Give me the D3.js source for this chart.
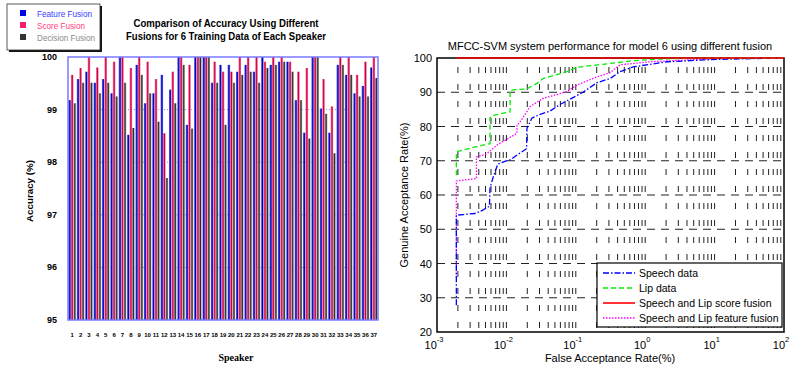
<!DOCTYPE html>
<html>
<head>
<meta charset="utf-8">
<script src="https://cdn.jsdelivr.net/npm/d3@7"></script>
<style>
  body { margin: 0; background: #fff; }
  svg { display: block; }
</style>
</head>
<body>
<svg id="chart" width="793" height="368"></svg>
<script>
// ---- left chart data: accuracy (%) per speaker
var speakers = ['1','2','3','4','5','6','7','8','9','10','11','12','13','14','15','16','17','18','19',
                '20','21','22','23','24','25','26','27','28','29','30','31','32','33','34','35','36','37']
var featureFusion = [99.18, 99.58, 99.72, 99.51, 99.58, 99.31, 100, 98.52, 99.85, 99.12, 99.31, 99.66, 99.38,
                     100, 98.71, 100, 100, 99.51, 99.85, 99.85, 99.72, 99.85, 99.72, 100, 99.85, 99.91, 99.91,
                     99.18, 98.56, 100, 99.02, 98.56, 99.85, 99.66, 99.31, 99.45, 99.8]
var scoreFusion = [99.66, 99.79, 100, 99.8, 100, 99.91, 100, 99.79, 100, 99.91, 99.58, 98.55, 99.72,
                   100, 99.85, 100, 100, 99.91, 99.72, 99.72, 100, 100, 100, 99.91, 100, 100, 99.91,
                   99.72, 99.79, 100, 99.58, 99.06, 100, 100, 99.66, 99.91, 100]
var decisionFusion = [99.12, 99.51, 99.51, 99.31, 99.51, 99.25, 99.51, 98.65, 99.66, 99.31, 98.77, 97.7, 99.12,
                      99.85, 98.64, 100, 100, 99.51, 98.71, 99.51, 99.66, 99.72, 99.51, 99.79, 99.85, 99.91, 99.72,
                      99.18, 98.45, 100, 98.92, 98.17, 99.85, 99.66, 99.25, 99.25, 99.6]
var accTicks = [95, 96, 97, 98, 99, 100]

// ---- right chart data: [FAR %, GAR %]
var speechData = [[0.0019, 27.8], [0.0019, 54.1], [0.0024, 54.3], [0.0035, 54.6], [0.0045, 55.5], [0.0057, 56.7],
                  [0.0058, 62], [0.0064, 65], [0.0075, 69], [0.0095, 69.8], [0.0115, 70.3], [0.015, 72],
                  [0.0195, 73.5], [0.0198, 79.5], [0.0234, 82.5], [0.03, 83.5], [0.0425, 84.5], [0.06, 86.5],
                  [0.0746, 87.5], [0.127, 90], [0.202, 92.8], [0.311, 94], [0.434, 96], [0.667, 97.4],
                  [2.06, 98.9], [10.8, 99.6], [100, 100]]
var lipData = [[0.0019, 65.8], [0.0019, 72.6], [0.0037, 74.1], [0.0058, 75.0], [0.0058, 82.6], [0.0064, 83.2],
               [0.0113, 84.3], [0.0113, 90.6], [0.0198, 91], [0.0276, 92.6], [0.0337, 94], [0.0746, 96],
               [0.104, 97.3], [0.311, 98.4], [0.667, 99.2], [1.29, 99.6], [5, 100], [100, 100]]
var scoreData = [[0.0019, 100], [100, 100]]
var featureData = [[0.0019, 36], [0.0019, 64.1], [0.0037, 64.8], [0.0037, 71.1], [0.0052, 72], [0.0073, 74.6],
                   [0.0142, 78], [0.0142, 80.4], [0.0157, 81.3], [0.0219, 85.8], [0.0337, 88.2], [0.0746, 90.2],
                   [0.104, 92.1], [0.202, 94.5], [0.311, 95.7], [0.434, 98], [1.17, 98.9], [6.2, 99.6],
                   [20, 100], [100, 100]]
var garTicks = [20, 30, 40, 50, 60, 70, 80, 90, 100]
var farDecades = [-3, -2, -1, 0, 1, 2]

var svg = d3.select('#chart')
var defs = svg.append('defs')

// ================= left: grouped bars =================
var bx = d3.scaleBand().domain(speakers).range([68, 378]).paddingInner(0.1).paddingOuter(0.05)
var sub = d3.scaleBand().domain(['f', 's', 'd']).range([0, bx.bandwidth()])
var by = d3.scaleLinear().domain([95, 100]).range([320, 57])

var barSeries = [
  {key: 'f', name: 'Feature Fusion', values: featureFusion, edge: '#6f6fff', mid: '#0000a8', text: '#3b3bff', swatch: '#0000ee', tlen: 55},
  {key: 's', name: 'Score Fusion', values: scoreFusion, edge: '#ff7aa6', mid: '#c40040', text: '#ff3c7c', swatch: '#ff1f66', tlen: 48},
  {key: 'd', name: 'Decision Fusion', values: decisionFusion, edge: '#a8a8a8', mid: '#2a2a2a', text: '#8a8a8a', swatch: '#333333', tlen: 58}
]

barSeries.forEach(function(s) {
  var g = defs.append('linearGradient').attr('id', 'grad-' + s.key)
    .attr('x1', '0%').attr('x2', '100%').attr('y1', '0%').attr('y2', '0%')
  g.append('stop').attr('offset', '0%').attr('stop-color', s.edge)
  g.append('stop').attr('offset', '55%').attr('stop-color', s.mid)
  g.append('stop').attr('offset', '100%').attr('stop-color', s.edge)
})

var left = svg.append('g').attr('class', 'left-chart')

// light dotted grid
left.selectAll('.hgrid')
  .data(accTicks.slice(1, -1))
  .enter().append('line')
    .attr('x1', 68).attr('x2', 378)
    .attr('y1', function(d){ return by(d) }).attr('y2', function(d){ return by(d) })
    .style('stroke', '#8c8cff')
    .style('stroke-width', 1)
    .style('stroke-dasharray', '1,2')

barSeries.forEach(function(s) {
  left.append('g')
    .selectAll('rect')
    .data(s.values)
    .enter().append('rect')
      .attr('x', function(d, i){ return bx(speakers[i]) + sub(s.key) })
      .attr('width', sub.bandwidth())
      .attr('y', function(d){ return by(d) })
      .attr('height', function(d){ return by(95) - by(d) })
      .style('fill', 'url(#grad-' + s.key + ')')
})

left.append('rect')
  .attr('x', 68).attr('y', 57).attr('width', 310).attr('height', 263)
  .style('fill', 'none')
  .style('stroke', '#7a7aff')
  .style('stroke-width', 1.5)

left.selectAll('.ytick')
  .data(accTicks)
  .enter().append('text')
    .attr('x', 57)
    .attr('y', function(d){ return by(d) + 3 })
    .attr('text-anchor', 'end')
    .text(function(d){ return d })
    .style('font-family', '"Liberation Sans Narrow", "Liberation Sans", Arial, sans-serif')
    .style('font-weight', 'bold')
    .style('font-size', '9px')

left.selectAll('.xtick')
  .data(speakers)
  .enter().append('text')
    .attr('x', function(d){ return bx(d) + bx.bandwidth() / 2 })
    .attr('y', 337)
    .attr('text-anchor', 'middle')
    .text(function(d){ return d })
    .style('font-family', '"Liberation Sans Narrow", "Liberation Sans", Arial, sans-serif')
    .style('font-weight', 'bold')
    .style('font-size', '6px')

left.append('text')
  .attr('transform', 'translate(33,191) rotate(-90)')
  .attr('text-anchor', 'middle')
  .attr('textLength', 62)
  .attr('lengthAdjust', 'spacingAndGlyphs')
  .text('Accuracy (%)')
  .style('font-family', '"Liberation Sans", Arial, sans-serif')
  .style('font-weight', 'bold')
  .style('font-size', '9px')

left.append('text')
  .attr('x', 236).attr('y', 361)
  .attr('text-anchor', 'middle')
  .text('Speaker')
  .style('font-family', '"Liberation Serif", "Times New Roman", serif')
  .style('font-weight', 'bold')
  .style('font-size', '10px')

var leftTitle = ['Comparison of Accuracy Using Different', 'Fusions for 6 Training Data of Each Speaker']
var titleLen = [185, 200]
left.selectAll('.title')
  .data(leftTitle)
  .enter().append('text')
    .attr('x', 226)
    .attr('y', function(d, i){ return 27 + i * 13 })
    .attr('text-anchor', 'middle')
    .attr('textLength', function(d, i){ return titleLen[i] })
    .attr('lengthAdjust', 'spacingAndGlyphs')
    .text(function(d){ return d })
    .style('font-family', '"Liberation Sans", Arial, sans-serif')
    .style('font-weight', 'bold')
    .style('font-size', '11px')

// legend with shadow
var lleg = left.append('g')
lleg.append('rect').attr('x', 9).attr('y', 6).attr('width', 93).attr('height', 46).style('fill', '#111')
lleg.append('rect').attr('x', 7).attr('y', 4).attr('width', 93).attr('height', 46)
  .style('fill', '#fff').style('stroke', '#333').style('stroke-width', 0.8)
barSeries.forEach(function(s, i) {
  lleg.append('rect')
    .attr('x', 20).attr('y', 10 + i * 12).attr('width', 6).attr('height', 6)
    .style('fill', s.swatch)
  lleg.append('text')
    .attr('x', 37).attr('y', 17 + i * 12)
    .attr('textLength', s.tlen)
    .attr('lengthAdjust', 'spacingAndGlyphs')
    .text(s.name)
    .style('fill', s.text)
    .style('font-family', '"Liberation Sans", Arial, sans-serif')
    .style('font-size', '9.5px')
})

// ================= right: ROC curves =================
var rx = d3.scaleLog().domain([1e-3, 1e2]).range([437, 784])
var ry = d3.scaleLinear().domain([20, 100]).range([332, 58])

var right = svg.append('g').attr('class', 'right-chart')

var minorVals = []
for (var k = -3; k < 2; k++) {
  for (var m = 1; m < 10; m++) {
    if (m === 1 && k === -3) continue
    minorVals.push(m * Math.pow(10, k))
  }
}

right.selectAll('.vgrid')
  .data(minorVals)
  .enter().append('line')
    .attr('x1', function(d){ return rx(d) }).attr('x2', function(d){ return rx(d) })
    .attr('y1', 332).attr('y2', 58)
    .style('stroke', '#222')
    .style('stroke-width', 1)
    .style('stroke-dasharray', '6,11')
    .style('stroke-dashoffset', -4)

right.selectAll('.hgrid')
  .data(garTicks.slice(1, -1))
  .enter().append('line')
    .attr('x1', 437).attr('x2', 784)
    .attr('y1', function(d){ return ry(d) }).attr('y2', function(d){ return ry(d) })
    .style('stroke', '#222')
    .style('stroke-width', 1)
    .style('stroke-dasharray', '8,6')

right.append('rect')
  .attr('x', 437).attr('y', 58).attr('width', 347).attr('height', 274)
  .style('fill', 'none')
  .style('stroke', '#000')
  .style('stroke-width', 1.5)

var line = d3.line()
  .x(function(d){ return rx(d[0]) })
  .y(function(d){ return ry(d[1]) })

var curves = [
  {name: 'Speech data', data: speechData, color: '#0000ff', dash: '6,2,1.5,2', width: 1.3},
  {name: 'Lip data', data: lipData, color: '#00ee00', dash: '5,3', width: 1.3},
  {name: 'Speech and Lip score fusion', data: scoreData, color: '#ff0000', dash: null, width: 1.6},
  {name: 'Speech and Lip feature fusion', data: featureData, color: '#ff00ff', dash: '1.5,1.5', width: 1.3}
]

var drawOrder = [3, 0, 1, 2]
drawOrder.forEach(function(i) {
  var c = curves[i]
  right.append('path')
    .attr('d', line(c.data))
    .style('fill', 'none')
    .style('stroke', c.color)
    .style('stroke-width', c.width)
    .style('stroke-dasharray', c.dash)
})

right.selectAll('.ytick')
  .data(garTicks)
  .enter().append('text')
    .attr('x', 432)
    .attr('y', function(d){ return ry(d) + 4 })
    .attr('text-anchor', 'end')
    .text(function(d){ return d })
    .style('font-family', '"Liberation Sans", Arial, sans-serif')
    .style('font-size', '11px')

var xt = right.selectAll('.xtick')
  .data(farDecades)
  .enter().append('text')
    .attr('x', function(d){ return rx(Math.pow(10, d)) - 3 })
    .attr('y', 349)
    .attr('text-anchor', 'middle')
    .style('font-family', '"Liberation Sans", Arial, sans-serif')
    .style('font-size', '11px')
xt.append('tspan').text('10')
xt.append('tspan').attr('dy', -7).style('font-size', '7.5px').text(function(d){ return d })

right.append('text')
  .attr('x', 610).attr('y', 362)
  .attr('text-anchor', 'middle')
  .text('False Acceptance Rate(%)')
  .style('font-family', '"Liberation Sans", Arial, sans-serif')
  .style('font-size', '11px')

right.append('text')
  .attr('transform', 'translate(408,195) rotate(-90)')
  .attr('text-anchor', 'middle')
  .text('Genuine Acceptance Rate(%)')
  .style('font-family', '"Liberation Sans", Arial, sans-serif')
  .style('font-size', '11px')

right.append('text')
  .attr('x', 610).attr('y', 50)
  .attr('text-anchor', 'middle')
  .text('MFCC-SVM system performance for model 6 using different fusion')
  .style('font-family', '"Liberation Sans", Arial, sans-serif')
  .style('font-size', '11px')

// legend
var rleg = right.append('g')
rleg.append('rect')
  .attr('x', 597).attr('y', 263).attr('width', 185).attr('height', 64)
  .style('fill', '#fff').style('stroke', '#000').style('stroke-width', 1.2)
curves.forEach(function(c, i) {
  rleg.append('line')
    .attr('x1', 603).attr('x2', 635)
    .attr('y1', 273 + i * 15).attr('y2', 273 + i * 15)
    .style('stroke', c.color)
    .style('stroke-width', c.width)
    .style('stroke-dasharray', c.dash)
  rleg.append('text')
    .attr('x', 639).attr('y', 277 + i * 15)
    .text(c.name)
    .style('font-family', '"Liberation Sans", Arial, sans-serif')
    .style('font-size', '10.5px')
})
</script>
</body>
</html>
